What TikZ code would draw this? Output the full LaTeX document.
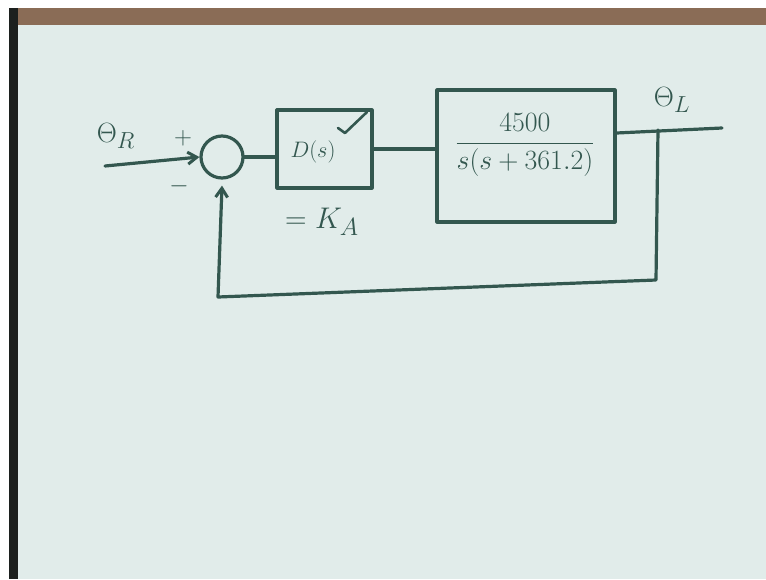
\documentclass[tikz,border=0pt]{standalone}
\usepackage{amsmath}
\usepackage{xcolor}
\usepackage{tikz}
\usetikzlibrary{arrows.meta, positioning}

\definecolor{ink}{HTML}{33574F}
\definecolor{paper}{HTML}{E1ECEA}
\definecolor{strip}{HTML}{8A6C56}
\definecolor{edge}{HTML}{1C201E}

\begin{document}
\begin{tikzpicture}[
  x=1pt, y=-1pt,
  pen/.style={draw=ink, line width=3.2pt, line cap=round, line join=round},
  blk/.style={pen, rectangle, inner sep=0pt},
  sumj/.style={pen, circle, minimum size=42pt, inner sep=0pt},
  lbl/.style={text=ink, inner sep=1pt, font=\Huge},
  sgn/.style={text=ink, inner sep=1pt, font=\Huge},
  arr/.style={pen, -{Straight Barb[length=9pt, width=12pt, line width=3pt]}},
]
\useasboundingbox (0,0) rectangle (766,579);

% --- sheet of paper ---
\fill[white] (0,0) rectangle (766,579);
\fill[edge]  (9,8) rectangle (18,579);
\fill[strip] (18,8) rectangle (766,25);
\fill[paper] (18,25) rectangle (766,579);

% --- blocks ---
\node[sumj] (sum) at (222,157) {};
\node[blk, minimum width=95pt, minimum height=78pt]
  (dbox) at (324.5,149) {};
\node[lbl, scale=0.9] (dtxt) at (313,152) {$D(s)$};
\node[blk, minimum width=178pt, minimum height=132pt]
  (gbox) at (526,156) {};
\node[lbl, scale=1.12] (gtxt) at (525,145) {$\dfrac{4500}{s(s+361.2)}$};

% --- labels ---
\node[lbl, scale=1.12] (thr) at (116,136) {$\Theta_R$};
\node[lbl, scale=1.12] (thl) at (672,100) {$\Theta_L$};
\node[sgn] (plus)  at (183,138) {$+$};
\node[sgn] (minus) at (179,186) {$-$};
\node[lbl, scale=1.2] (ka) at (322,222) {$=K_A$};

% tick on the D(s) block
\draw[pen, line width=2.6pt] (338,128) -- (345,133) -- (367,112);

% --- signal points ---
\coordinate (in)  at (105,166);
\coordinate (out) at (722,128);
\coordinate (tap) at (658,130);
\coordinate (fb1) at (656,280);
\coordinate (fb2) at (218,297);

% --- forward path ---
\draw[arr] (in) -- (sum.west);
\draw[pen] (sum.east) -- (sum.east -| dbox.west);
\draw[pen] (dbox.east) -- (dbox.east -| gbox.west);
\draw[pen] ([yshift=23pt]gbox.east) -- (out);

% --- feedback path ---
\draw[arr] (tap) -- (fb1) -- (fb2) -- ([yshift=-6pt]sum.south);
\end{tikzpicture}
\end{document}
